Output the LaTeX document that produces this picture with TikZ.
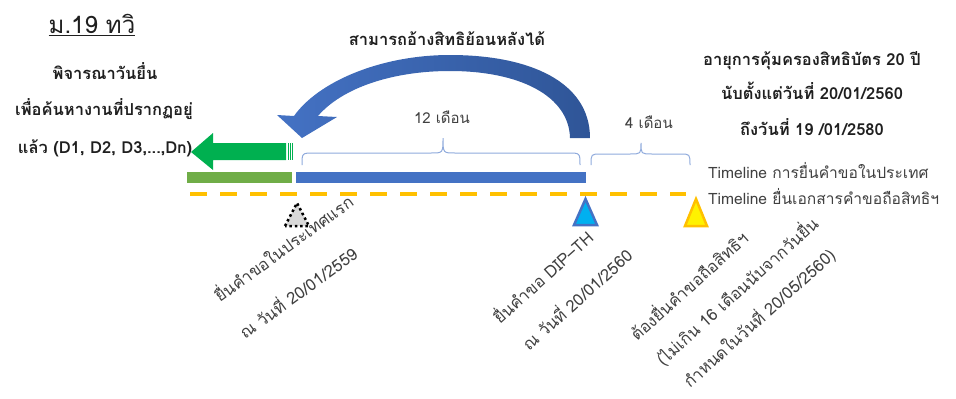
\documentclass[tikz,border=0pt]{standalone}
\usepackage{fontspec}
\setmainfont{Loma}[Script=Thai]
\usetikzlibrary{calc}
\definecolor{txtdark}{HTML}{1F1F1F}
\definecolor{txtgray}{HTML}{404040}
\definecolor{greenbar}{HTML}{70AD47}
\definecolor{greenarr}{HTML}{00B050}
\definecolor{bluebar}{HTML}{4472C4}
\definecolor{bluedark}{HTML}{2F5597}
\definecolor{bracecol}{HTML}{8FAADC}
\definecolor{orangeln}{HTML}{FFC000}
\definecolor{cyanfill}{HTML}{00B0F0}
\begin{document}
\begin{tikzpicture}[x=1pt,y=-1pt,
  boldtxt/.style={font=\bfseries\fontsize{16.5}{19}\selectfont, text=txtdark, inner sep=0pt, anchor=base},
  lbl/.style={font=\fontsize{15}{18}\selectfont, text=txtgray, inner sep=0pt, anchor=base},
  rotlbl/.style={lbl, font=\fontsize{16.5}{19}\selectfont, anchor=base west},
  bracestyle/.style={draw=bracecol, line width=1pt},
  orangeline/.style={draw=orangeln, line width=4pt, dash pattern=on 17pt off 13pt}
]
\useasboundingbox (0,0) rectangle (956,399);

% title
\node[boldtxt, font=\fontsize{24}{28}\selectfont] (title) at (92,33) {ม.19 ทวิ};
\draw[txtdark, line width=1pt] ($(title.base west)+(0,2.5)$) -- ($(title.base east)+(0,2.5)$);

% left text
\node[boldtxt] (l1) at (105,79) {พิจารณาวันยื่น};
\node[boldtxt] (l2) at (104,115) {เพื่อค้นหางานที่ปรากฏอยู่};
\node[boldtxt] (l3) at (105,153) {แล้ว (D1, D2, D3,...,Dn)};

% top text
\node[boldtxt] (back) at (447,45) {สามารถอ้างสิทธิย้อนหลังได้};

% right text
\node[boldtxt] (r1) at (812,65) {อายุการคุ้มครองสิทธิบัตร 20 ปี};
\node[boldtxt] (r2) at (812,99) {นับตั้งแต่วันที่ 20/01/2560};
\node[boldtxt] (r3) at (812,135) {ถึงวันที่ 19 /01/2580};

% timeline legend
\node[lbl, font=\fontsize{15.6}{18}\selectfont, anchor=base west] (tl1) at (708,178) {Timeline การยื่นคำขอในประเทศ};
\node[lbl, font=\fontsize{15.6}{18}\selectfont, anchor=base west] (tl2) at (708,204) {Timeline ยื่นเอกสารคำขอถือสิทธิฯ};

% bars
\fill[greenbar] (187,172) rectangle (292,183);
\fill[bluebar] (296,172) rectangle (586,183);

% dashed timeline
\draw[orangeline] (190,194) -- (686,194);

% green arrow
\fill[greenarr] (191,152) -- (213,133) -- (213,143) -- (286,143) -- (286,160) -- (213,160) -- (213,170) -- cycle;
\fill[greenarr] (287.5,143) rectangle (289,160);
\fill[greenarr] (290,143) rectangle (290.8,160);
\fill[greenarr] (291.5,143) rectangle (292.3,160);

% curved arrow
\shade[left color=bluebar, right color=bluedark]
  (590,138) .. controls (590,82) and (530,55) .. (450,55)
  .. controls (380,55) and (318,82) .. (294,116)
  -- (277,115) -- (302,138) -- (337,117) -- (318,116)
  .. controls (342,88) and (392,71) .. (450,71)
  .. controls (520,71) and (569,96) .. (570,138) -- cycle;

% braces
\draw[bracestyle] (302,165) .. controls (302,153) .. (314,153) -- (431,153)
  .. controls (443,153) .. (443,138) .. controls (443,153) .. (455,153)
  -- (568,153) .. controls (580,153) .. (580,165);
\draw[bracestyle] (591,165) .. controls (591,154) .. (601,154) -- (630,154)
  .. controls (641,154) .. (641,143) .. controls (641,154) .. (652,154)
  -- (680,154) .. controls (690,154) .. (690,165);
\node[lbl] (m12) at (442,123) {12 เดือน};
\node[lbl] (m4) at (649,128) {4 เดือน};

% triangles
\filldraw[fill=black!15, draw=black, line width=2.5pt, dash pattern=on 2.5pt off 2.8pt, line join=round]
  (285,226) -- (297,203) -- (309,226) -- cycle;
\filldraw[fill=cyanfill, draw=bluebar, line width=2.5pt, line join=miter]
  (574,225) -- (585.5,199) -- (597,225) -- cycle;
\filldraw[fill=yellow, draw=orangeln, line width=2.5pt, line join=miter]
  (685,226) -- (696,199) -- (707,226) -- cycle;

% rotated labels
\node[rotlbl, rotate=36] (a1) at (220,303) {ยื่นคำขอในประเทศแรก};
\node[rotlbl, rotate=36] (a2) at (245,340) {ณ วันที่ 20/01/2559};
\node[rotlbl, rotate=42] (b1) at (500,325) {ยื่นคำขอ DIP–TH};
\node[rotlbl, rotate=42] (b2) at (529,352) {ณ วันที่ 20/01/2560};
\node[rotlbl, rotate=42] (c1) at (637,342) {ต้องยื่นคำขอถือสิทธิฯ};
\node[rotlbl, rotate=42] (c2) at (663,367) {(ไม่เกิน 16 เดือนนับจากวันยื่น};
\node[rotlbl, rotate=42] (c3) at (690,389) {กำหนดในวันที่ 20/05/2560)};
\end{tikzpicture}
\end{document}
